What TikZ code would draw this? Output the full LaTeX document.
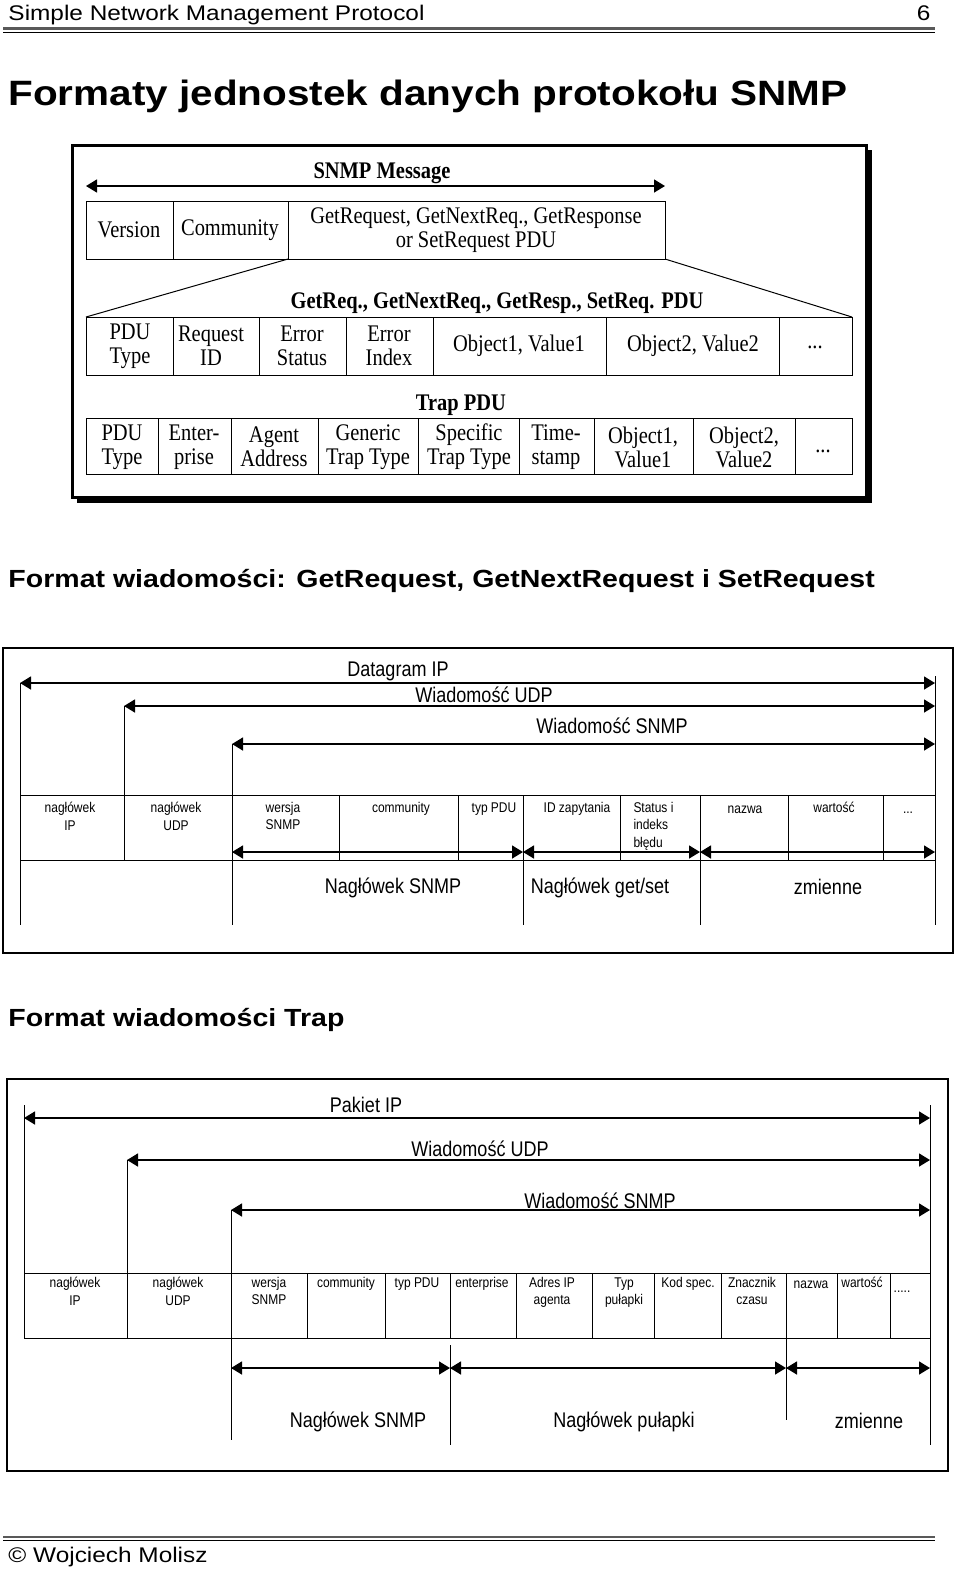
\documentclass[tikz,border=0pt]{standalone}
\usepackage{fontspec}
\setmainfont{Liberation Sans}
\newfontfamily\headfont{Liberation Sans}[FakeStretch=1.15]
\newfontfamily\timesfont{Liberation Serif}[FakeStretch=0.86]
\newfontfamily\narrowfont{Liberation Sans}[FakeStretch=0.85]
\usetikzlibrary{arrows.meta}

\begin{document}
\begin{tikzpicture}[x=0.5pt,y=-0.5pt,line width=0.5pt,
    every node/.style={inner sep=0pt},
    pagehead/.style={font=\headfont\fontsize{10.6}{12}\selectfont},
    bigtitle/.style={font=\headfont\bfseries\fontsize{17.6}{20}\selectfont},
    sectitle/.style={font=\headfont\bfseries\fontsize{12.4}{14}\selectfont},
    cell/.style={font=\timesfont\fontsize{11.9}{12}\selectfont, align=center},
    cellhead/.style={font=\timesfont\bfseries\fontsize{11.9}{12}\selectfont},
    lbl/.style={font=\narrowfont\fontsize{10.6}{12}\selectfont},
    field/.style={font=\narrowfont\fontsize{7.05}{8.6}\selectfont, align=center, anchor=north},
    span/.style={line width=0.75pt, {Triangle[length=5.5pt,width=6.5pt]}-{Triangle[length=5.5pt,width=6.5pt]}},
    frame/.style={line width=1.3pt}]
  \useasboundingbox (0,0) rectangle (960,1571);

  % page header and title
  \node[pagehead, anchor=base west] (hdr) at (8,20) {Simple Network Management Protocol};
  \node[pagehead, anchor=base east] (pagenum) at (931,20) {6};
  \draw[line width=1.1pt, black!65] (3,28.5) -- (935,28.5);
  \draw[line width=0.5pt] (3,32) -- (935,32);
  \node[bigtitle, anchor=base west] (title) at (8,105) {Formaty jednostek danych protokołu SNMP};

  % ---- first panel: SNMP message and PDUs
  \fill (866,150) rectangle (872,503);
  \fill (77,497) rectangle (872,503);
  \draw[line width=1.5pt] (72,145) rectangle (866,497);

  \node[cellhead] (msg) at (382,173) {SNMP Message};
  \draw[span] (86,186) -- (665,186);
  \draw (86,201) rectangle (665,259);
  \draw (173,201) -- (173,259) (288,201) -- (288,259);
  \node[cell] (ver) at (129,230) {Version};
  \node[cell] (comm) at (230,230) {Community};
  \node[cell] (pdu) at (476,230) {GetRequest, GetNextReq., GetResponse\\or SetRequest PDU};

  % expansion lines
  \draw (288,259) -- (86,317);
  \draw (665,259) -- (852,317);

  \node[cellhead] (gethead) at (497,303) {GetReq., GetNextReq., GetResp., SetReq. PDU};
  \draw (86,317) rectangle (852,375);
  \draw (173,317) -- (173,375) (259,317) -- (259,375) (346,317) -- (346,375)
        (433,317) -- (433,375) (606,317) -- (606,375) (779,317) -- (779,375);
  \node[cell] (gtype) at (130,346) {PDU\\Type};
  \node[cell] (greq) at (211,346) {Request\\ID};
  \node[cell] (gstat) at (302,346) {Error\\Status};
  \node[cell] (gidx) at (389,346) {Error\\Index};
  \node[cell] (gobj1) at (519,346) {Object1, Value1};
  \node[cell] (gobj2) at (693,346) {Object2, Value2};
  \node[cell] (gmore) at (815,347) {...};

  \node[cellhead] (traphead) at (461,405) {Trap PDU};
  \draw (86,418) rectangle (852,474);
  \draw (158,418) -- (158,474) (231,418) -- (231,474) (318,418) -- (318,474)
        (418,418) -- (418,474) (519,418) -- (519,474) (594,418) -- (594,474)
        (693,418) -- (693,474) (795,418) -- (795,474);
  \node[cell] (ttype) at (122,447) {PDU\\Type};
  \node[cell] (tent) at (194,447) {Enter-\\prise};
  \node[cell] (tagent) at (274,447) {Agent\\Address};
  \node[cell] (tgen) at (368,447) {Generic\\Trap Type};
  \node[cell] (tspec) at (469,447) {Specific\\Trap Type};
  \node[cell] (ttime) at (556,447) {Time-\\stamp};
  \node[cell] (tobj1) at (643,447) {Object1,\\Value1};
  \node[cell] (tobj2) at (744,447) {Object2,\\Value2};
  \node[cell] (tmore) at (823,451) {...};

  % ---- second panel: GetRequest / GetNextRequest / SetRequest
  \node[sectitle, anchor=base west] (sec2) at (8,587) {Format wiadomości: GetRequest, GetNextRequest i SetRequest};
  \draw[frame] (3,648) rectangle (953,953);

  \node[lbl] (dgram) at (398,671) {Datagram IP};
  \draw[span] (20,683) -- (935,683);
  \node[lbl] (udp) at (484,695) {Wiadomość UDP};
  \draw[span] (124,706) -- (935,706);
  \node[lbl] (snmp) at (612,726) {Wiadomość SNMP};
  \draw[span] (232,744) -- (935,744);

  \draw (20,683) -- (20,925) (124,706) -- (124,860) (232,744) -- (232,925) (935,676) -- (935,925);
  \draw (20,795) -- (935,795) (20,860) -- (935,860);
  \draw (339,795) -- (339,860) (458,795) -- (458,860) (523,795) -- (523,925)
        (620,795) -- (620,860) (700,795) -- (700,925) (788,795) -- (788,860)
        (883,795) -- (883,860);
  \node[field] (ipf) at (70,802) {nagłówek\\IP};
  \node[field] (udpf) at (176,802) {nagłówek\\UDP};
  \node[field] (verf) at (283,802) {wersja\\SNMP};
  \node[field] (commf) at (401,802) {community};
  \node[field] (typef) at (494,802) {typ PDU};
  \node[field] (idf) at (577,802) {ID zapytania};
  \node[field, anchor=north west, align=left] (errf) at (633,802) {Status i\\indeks\\błędu};
  \node[field] (namef) at (745,805) {nazwa};
  \node[field] (valf) at (834,802) {wartość};
  \node[field, anchor=base] (moref) at (908,813) {...};

  \draw[span] (232,852) -- (523,852);
  \draw[span] (523,852) -- (700,852);
  \draw[span] (700,852) -- (935,852);
  \node[lbl] (hsnmp) at (393,888) {Nagłówek SNMP};
  \node[lbl] (hget) at (600,888) {Nagłówek get/set};
  \node[lbl] (vars) at (828,887) {zmienne};

  % ---- third panel: Trap
  \node[sectitle, anchor=base west] (sec3) at (8,1026) {Format wiadomości Trap};
  \draw[frame] (7,1079) rectangle (948,1471);

  \node[lbl] (pkt) at (366,1105) {Pakiet IP};
  \draw[span] (24,1118) -- (930,1118);
  \node[lbl] (tudp) at (480,1149) {Wiadomość UDP};
  \draw[span] (127,1160) -- (930,1160);
  \node[lbl] (tsnmp) at (600,1201) {Wiadomość SNMP};
  \draw[span] (231,1210) -- (930,1210);

  \draw (24,1105) -- (24,1338) (127,1160) -- (127,1338) (231,1210) -- (231,1440) (930,1105) -- (930,1445);
  \draw (24,1273) -- (930,1273) (24,1338) -- (930,1338);
  \draw (307,1273) -- (307,1338) (385,1273) -- (385,1338) (450,1273) -- (450,1338)
        (516,1273) -- (516,1338) (592,1273) -- (592,1338) (654,1273) -- (654,1338)
        (721,1273) -- (721,1338) (786,1273) -- (786,1420) (837,1273) -- (837,1338)
        (890,1273) -- (890,1338);
  \draw (450,1345) -- (450,1445);
  \node[field] (tipf) at (75,1277) {nagłówek\\IP};
  \node[field] (tudpf) at (178,1277) {nagłówek\\UDP};
  \node[field] (tverf) at (269,1277) {wersja\\SNMP};
  \node[field] (tcommf) at (346,1277) {community};
  \node[field] (ttypef) at (417,1277) {typ PDU};
  \node[field] (tentf) at (482,1277) {enterprise};
  \node[field] (taddrf) at (552,1277) {Adres IP\\agenta};
  \node[field] (tkindf) at (624,1277) {Typ\\pułapki};
  \node[field] (tcodef) at (688,1277) {Kod spec.};
  \node[field] (ttimef) at (752,1277) {Znacznik\\czasu};
  \node[field] (tnamef) at (811,1280) {nazwa};
  \node[field] (tvalf) at (862,1277) {wartość};
  \node[field, anchor=base] (tmoref) at (902,1292) {.....};

  \draw[span] (231,1368) -- (450,1368);
  \draw[span] (450,1368) -- (786,1368);
  \draw[span] (786,1368) -- (930,1368);
  \node[lbl] (thsnmp) at (358,1422) {Nagłówek SNMP};
  \node[lbl] (thtrap) at (624,1422) {Nagłówek pułapki};
  \node[lbl] (tvars) at (869,1421) {zmienne};

  % page footer
  \draw[line width=1.1pt, black!65] (3,1537) -- (935,1537);
  \draw[line width=0.5pt] (3,1540.5) -- (935,1540.5);
  \node[pagehead, anchor=base west] (foot) at (8,1562) {© Wojciech Molisz};
\end{tikzpicture}
\end{document}
